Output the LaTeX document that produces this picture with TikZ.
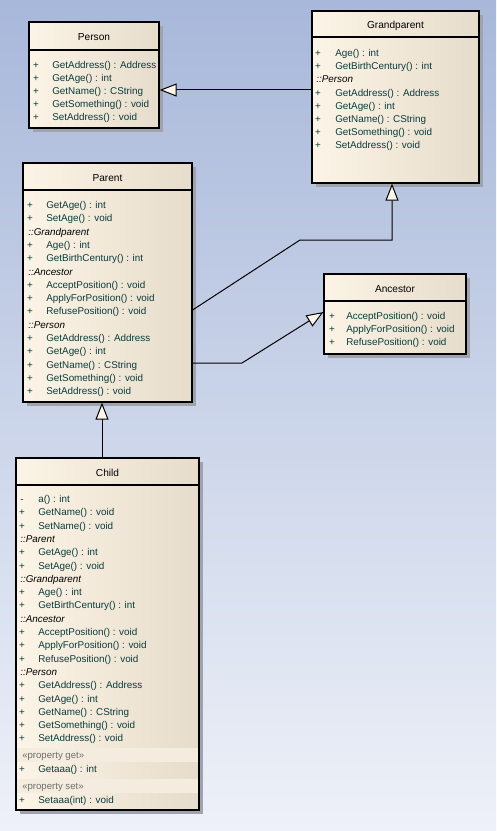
\documentclass[tikz,border=0pt]{standalone}
\usepackage{fontspec}
\setmainfont{Liberation Sans}
\usetikzlibrary{arrows.meta,calc}
\definecolor{bgT}{HTML}{A8B8DA}
\definecolor{bgB}{HTML}{EEF1F8}
\definecolor{boxL}{HTML}{FCF4E6}
\definecolor{boxR}{HTML}{E6DCCB}
\definecolor{bandc}{HTML}{F4ECDE}
\definecolor{memc}{HTML}{0A3C3C}
\definecolor{stc}{HTML}{6E6E6E}
\definecolor{tipc}{HTML}{FCF5E9}
\definecolor{shadowc}{HTML}{9EA3AE}
\tikzset{
  cbox/.style={draw=black, line width=0.9pt, left color=boxL, right color=boxR, inner sep=0pt},
  boxline/.style={draw=black, line width=0.9pt},
  ttl/.style={anchor=base, inner sep=0pt, font=\fontsize{7.6}{9}\selectfont, text=black},
  sgn/.style={anchor=base, inner sep=0pt, font=\fontsize{7.4}{9}\selectfont, text=memc},
  mtx/.style={anchor=base west, inner sep=0pt, font=\fontsize{7.4}{9}\selectfont, text=memc},
  gtx/.style={anchor=base west, inner sep=0pt, font=\fontsize{7.4}{9}\selectfont\itshape, text=black},
  stx/.style={anchor=base west, inner sep=0pt, font=\fontsize{7.2}{9}\selectfont, text=stc},
  inh/.style={draw=black, line width=0.75pt, -{Triangle[length=12.75pt, width=9.75pt, fill=tipc]}},
}
\newcommand\classbox[7]{%
  \fill[shadowc] (#2+4,#3+4) rectangle (#4+4,#5+4);
  \node[cbox, minimum width={(#4-#2)*0.75pt}, minimum height={(#5-#3)*0.75pt}] (#1) at ({(#2+#4)/2},{(#3+#5)/2}) {};
  \draw[boxline] (#2,#6) -- (#4,#6);
  \node[ttl] (#1-t) at ({(#2+#4)/2},{(#3+#6)/2+5}) {#7};
}
\newcommand\mem[6]{%
  \node[sgn] (#1s) at (#2,#4+3.5) {#5};
  \node[mtx] (#1) at (#3,#4+3.5) {#6};
}
\newcommand\grp[4]{\node[gtx] (#1) at (#2,#3+3.5) {#4};}
\begin{document}
\begin{tikzpicture}[x=0.75pt,y=-0.75pt]
\useasboundingbox (0,0) rectangle (496,831);
\shade[top color=bgT, bottom color=bgB] (0,0) rectangle (496,831);

% Person
\classbox{person}{29}{22}{159}{128}{50}{Person}
\mem{p1}{36}{52}{65}{+}{GetAddress() : Address}
\mem{p2}{36}{52}{78}{+}{GetAge() : int}
\mem{p3}{36}{52}{91}{+}{GetName() : CString}
\mem{p4}{36}{52}{104}{+}{GetSomething() : void}
\mem{p5}{36}{52}{117}{+}{SetAddress() : void}

% Grandparent
\classbox{grand}{312}{11}{479}{183}{37}{Grandparent}
\mem{g1}{318}{335}{53}{+}{Age() : int}
\mem{g2}{318}{335}{66.2}{+}{GetBirthCentury() : int}
\grp{g3}{316}{79.4}{::Person}
\mem{g4}{318}{335}{92.6}{+}{GetAddress() : Address}
\mem{g5}{318}{335}{105.8}{+}{GetAge() : int}
\mem{g6}{318}{335}{119}{+}{GetName() : CString}
\mem{g7}{318}{335}{132.2}{+}{GetSomething() : void}
\mem{g8}{318}{335}{145.4}{+}{SetAddress() : void}

% Parent
\classbox{parent}{23}{163}{192}{402}{190}{Parent}
\mem{a1}{30}{46}{205}{+}{GetAge() : int}
\mem{a2}{30}{46}{218.3}{+}{SetAge() : void}
\grp{a3}{28}{231.6}{::Grandparent}
\mem{a4}{30}{46}{244.9}{+}{Age() : int}
\mem{a5}{30}{46}{258.2}{+}{GetBirthCentury() : int}
\grp{a6}{28}{271.5}{::Ancestor}
\mem{a7}{30}{46}{284.8}{+}{AcceptPosition() : void}
\mem{a8}{30}{46}{298.1}{+}{ApplyForPosition() : void}
\mem{a9}{30}{46}{311.4}{+}{RefusePosition() : void}
\grp{a10}{28}{324.7}{::Person}
\mem{a11}{30}{46}{338}{+}{GetAddress() : Address}
\mem{a12}{30}{46}{351.3}{+}{GetAge() : int}
\mem{a13}{30}{46}{364.6}{+}{GetName() : CString}
\mem{a14}{30}{46}{377.9}{+}{GetSomething() : void}
\mem{a15}{30}{46}{391.2}{+}{SetAddress() : void}

% Ancestor
\classbox{anc}{324}{274}{466}{354}{301}{Ancestor}
\mem{n1}{332}{346}{316}{+}{AcceptPosition() : void}
\mem{n2}{332}{346}{329}{+}{ApplyForPosition() : void}
\mem{n3}{332}{346}{342}{+}{RefusePosition() : void}

% Child
\classbox{child}{16}{458}{199}{810}{485}{Child}
\fill[bandc] (17,748) rectangle (198,762);
\fill[bandc] (17,779) rectangle (198,793);
\mem{c0}{22}{38}{499}{-}{a() : int}
\mem{c1}{22}{38}{512.3}{+}{GetName() : void}
\mem{c2}{22}{38}{525.6}{+}{SetName() : void}
\grp{c3}{20}{538.9}{::Parent}
\mem{c4}{22}{38}{552.2}{+}{GetAge() : int}
\mem{c5}{22}{38}{565.5}{+}{SetAge() : void}
\grp{c6}{20}{578.8}{::Grandparent}
\mem{c7}{22}{38}{592.1}{+}{Age() : int}
\mem{c8}{22}{38}{605.4}{+}{GetBirthCentury() : int}
\grp{c9}{20}{618.7}{::Ancestor}
\mem{c10}{22}{38}{632}{+}{AcceptPosition() : void}
\mem{c11}{22}{38}{645.3}{+}{ApplyForPosition() : void}
\mem{c12}{22}{38}{658.6}{+}{RefusePosition() : void}
\grp{c13}{20}{671.9}{::Person}
\mem{c14}{22}{38}{685.2}{+}{GetAddress() : Address}
\mem{c15}{22}{38}{698.5}{+}{GetAge() : int}
\mem{c16}{22}{38}{711.8}{+}{GetName() : CString}
\mem{c17}{22}{38}{725.1}{+}{GetSomething() : void}
\mem{c18}{22}{38}{738.4}{+}{SetAddress() : void}
\node[stx] (c19) at (22,758.5) {«property get»};
\mem{c20}{22}{38}{769}{+}{Getaaa() : int}
\node[stx] (c21) at (22,789.5) {«property set»};
\mem{c22}{22}{38}{800}{+}{Setaaa(int) : void}

% connectors
\draw[inh] (grand.west |- 0,90) -- (person.east |- 0,90);
\draw[inh] (parent.east |- 0,310) -- (300,240) -- (392,240) -- (grand.south -| 392,0);
\draw[inh] (parent.east |- 0,363) -- (242,363) -- (anc.west |- 0,312);
\draw[inh] (child.north -| 102,0) -- (parent.south -| 102,0);
\end{tikzpicture}
\end{document}
